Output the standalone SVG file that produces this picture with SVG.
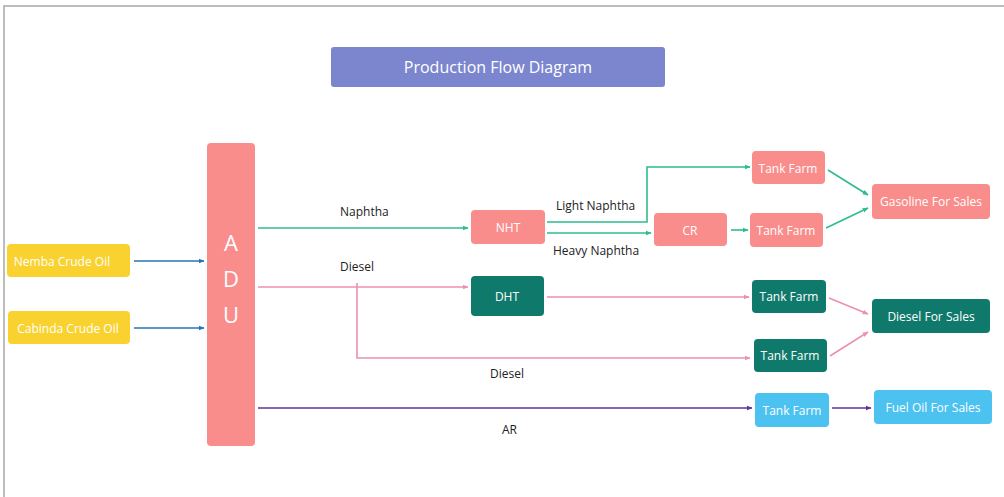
<svg xmlns="http://www.w3.org/2000/svg" width="1004" height="497" viewBox="0 0 1004 497">
<style>
.node text{font-family:"Open Sans","Liberation Sans",sans-serif;font-size:12px;fill:#ffffff;text-anchor:middle;dominant-baseline:central}
.lbl{font-family:"Open Sans","Liberation Sans",sans-serif;font-size:12px;fill:#222222}
.pink{fill:#f98d8b}
.teal{fill:#0f7a6b}
.yel{fill:#f9d230}
.sky{fill:#4cc2f1}
.c{fill:none;stroke-width:1.6}
.g{stroke:#2dbd8d}
.p{stroke:#ec8fb4}
.b{stroke:#2676b4}
.v{stroke:#5a3596}
</style>
<defs>
<marker id="ag" viewBox="0 0 10 10" refX="9" refY="5" markerWidth="6" markerHeight="6" orient="auto" markerUnits="userSpaceOnUse"><path d="M0,1 L10,5 L0,9 z" fill="#2dbd8d"/></marker>
<marker id="ap" viewBox="0 0 10 10" refX="9" refY="5" markerWidth="6" markerHeight="6" orient="auto" markerUnits="userSpaceOnUse"><path d="M0,1 L10,5 L0,9 z" fill="#ec8fb4"/></marker>
<marker id="ab" viewBox="0 0 10 10" refX="9" refY="5" markerWidth="6" markerHeight="6" orient="auto" markerUnits="userSpaceOnUse"><path d="M0,1 L10,5 L0,9 z" fill="#2676b4"/></marker>
<marker id="av" viewBox="0 0 10 10" refX="9" refY="5" markerWidth="6" markerHeight="6" orient="auto" markerUnits="userSpaceOnUse"><path d="M0,1 L10,5 L0,9 z" fill="#5a3596"/></marker>
</defs>
<rect width="1004" height="497" fill="#ffffff"/>
<path d="M4,497 L4,6 L1004,6" fill="none" stroke="#a8a8a8" stroke-width="1.5"/>

<g id="title" class="node"><rect x="331" y="47" width="334" height="40" rx="3" fill="#7b86cf"/><text x="498" y="67" style="font-size:16px">Production Flow Diagram</text></g>

<g id="connectors">
<line class="c b" x1="134" y1="261" x2="204" y2="261" marker-end="url(#ab)"/>
<line class="c b" x1="134" y1="328" x2="204" y2="328" marker-end="url(#ab)"/>
<line class="c g" x1="258" y1="228" x2="468" y2="228" marker-end="url(#ag)"/>
<polyline class="c g" points="547,222 647,222 647,167 750,167" marker-end="url(#ag)"/>
<line class="c g" x1="547" y1="233" x2="651" y2="233" marker-end="url(#ag)"/>
<line class="c g" x1="731" y1="230" x2="748" y2="230" marker-end="url(#ag)"/>
<line class="c g" x1="828" y1="170" x2="868" y2="195" marker-end="url(#ag)"/>
<line class="c g" x1="826" y1="228" x2="868" y2="208" marker-end="url(#ag)"/>
<line class="c p" x1="258" y1="287" x2="468" y2="287" marker-end="url(#ap)"/>
<polyline class="c p" points="357,283 357,358 750,358" marker-end="url(#ap)"/>
<line class="c p" x1="547" y1="297" x2="749" y2="297" marker-end="url(#ap)"/>
<line class="c p" x1="829" y1="298" x2="868" y2="314" marker-end="url(#ap)"/>
<line class="c p" x1="830" y1="356" x2="868" y2="332" marker-end="url(#ap)"/>
<line class="c v" x1="258" y1="408" x2="752" y2="408" marker-end="url(#av)"/>
<line class="c v" x1="832" y1="408" x2="871" y2="408" marker-end="url(#av)"/>
<text class="lbl" x="340" y="216">Naphtha</text>
<text class="lbl" x="556" y="210">Light Naphtha</text>
<text class="lbl" x="553" y="255">Heavy Naphtha</text>
<text class="lbl" x="340" y="271">Diesel</text>
<text class="lbl" x="490" y="378">Diesel</text>
<text class="lbl" x="502" y="434">AR</text>
</g>

<g id="nemba" class="node"><rect class="yel" x="7" y="244" width="123" height="33" rx="4"/><text x="62" y="261">Nemba Crude Oil</text></g>
<g id="cabinda" class="node"><rect class="yel" x="8" y="311" width="122" height="33" rx="4"/><text x="68" y="328">Cabinda Crude Oil</text></g>
<g id="adu" class="node"><rect class="pink" x="207" y="143" width="48" height="303" rx="4"/>
<text x="231" y="242" style="font-size:22px">A</text><text x="231" y="278" style="font-size:22px">D</text><text x="231" y="314" style="font-size:22px">U</text></g>
<g id="nht" class="node"><rect class="pink" x="471" y="210" width="74" height="34" rx="4"/><text x="508" y="227">NHT</text></g>
<g id="cr" class="node"><rect class="pink" x="654" y="213" width="73" height="33" rx="4"/><text x="690" y="230">CR</text></g>
<g id="tf1" class="node"><rect class="pink" x="752" y="151" width="73" height="33" rx="4"/><text x="788" y="168">Tank Farm</text></g>
<g id="tf2" class="node"><rect class="pink" x="750" y="213" width="73" height="34" rx="4"/><text x="786" y="230">Tank Farm</text></g>
<g id="gasoline" class="node"><rect class="pink" x="872" y="184" width="118" height="35" rx="4"/><text x="931" y="201">Gasoline For Sales</text></g>
<g id="dht" class="node"><rect class="teal" x="471" y="276" width="73" height="40" rx="4"/><text x="507" y="296">DHT</text></g>
<g id="tf3" class="node"><rect class="teal" x="752" y="280" width="74" height="33" rx="4"/><text x="789" y="296">Tank Farm</text></g>
<g id="tf4" class="node"><rect class="teal" x="754" y="339" width="73" height="33" rx="4"/><text x="790" y="355">Tank Farm</text></g>
<g id="dieselsales" class="node"><rect class="teal" x="872" y="299" width="118" height="34" rx="4"/><text x="931" y="316">Diesel For Sales</text></g>
<g id="tf5" class="node"><rect class="sky" x="755" y="393" width="74" height="34" rx="4"/><text x="792" y="410">Tank Farm</text></g>
<g id="fueloil" class="node"><rect class="sky" x="874" y="390" width="118" height="34" rx="4"/><text x="933" y="407">Fuel Oil For Sales</text></g>
</svg>
